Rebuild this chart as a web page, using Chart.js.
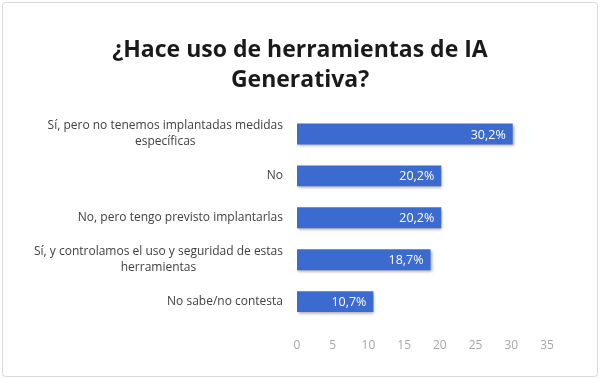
<!DOCTYPE html>
<html>
<head>
<meta charset="utf-8">
<script src="https://cdn.jsdelivr.net/npm/chart.js@4.4.1/dist/chart.umd.min.js"></script>
<style>
  html, body { margin: 0; padding: 0; background: #fff; }
  #wrap { width: 600px; height: 379px; position: relative; }
</style>
</head>
<body>
<div id="wrap"><canvas id="iaChart"></canvas></div>
<script>
// Data
const categories = [
    ['Sí, pero no tenemos implantadas medidas', 'específicas'],
    'No',
    'No, pero tengo previsto implantarlas',
    ['Sí, y controlamos el uso y seguridad de estas', 'herramientas'],
    'No sabe/no contesta'
];
const percentages = [30.2, 20.2, 20.2, 18.7, 10.7];
const valueLabels = ['30,2%', '20,2%', '20,2%', '18,7%', '10,7%'];
const xTicks = [0, 5, 10, 15, 20, 25, 30, 35];
const titleLines = ['¿Hace uso de herramientas de IA', 'Generativa?'];

const barColor = '#3c6bcf';
const labelFont = "'Open Sans', 'DejaVu Sans', sans-serif";

// Light frame round the whole picture
const framePlugin = {
    id: 'frame',
    beforeDraw(chart) {
        const ctx = chart.ctx;
        ctx.save();
        ctx.fillStyle = '#fff';
        ctx.fillRect(0, 0, chart.width, chart.height);
        ctx.strokeStyle = '#d9d9d9';
        ctx.lineWidth = 1;
        ctx.beginPath();
        ctx.roundRect(2.5, 2.5, chart.width - 5, chart.height - 5, 3);
        ctx.stroke();
        ctx.restore();
    }
};

// Title centred on the whole picture, not on the plot box
const centredTitlePlugin = {
    id: 'centredTitle',
    afterDraw(chart) {
        const ctx = chart.ctx;
        ctx.save();
        ctx.font = 'bold 23px ' + labelFont;
        ctx.fillStyle = '#1a1a1a';
        ctx.textAlign = 'center';
        ctx.textBaseline = 'middle';
        titleLines.forEach((line, i) => {
            ctx.fillText(line, chart.width / 2, 50 + i * 30);
        });
        ctx.restore();
    }
};

// Category labels: block is right-aligned to the axis, wrapped lines centred in the block
const categoryLabelPlugin = {
    id: 'categoryLabels',
    afterDraw(chart) {
        const ctx = chart.ctx;
        const yScale = chart.scales.y;
        const right = chart.chartArea.left - 14;
        const lineH = 16;
        ctx.save();
        ctx.font = '12px ' + labelFont;
        ctx.fillStyle = '#404040';
        ctx.textAlign = 'center';
        ctx.textBaseline = 'middle';
        categories.forEach((label, i) => {
            const lines = Array.isArray(label) ? label : [label];
            const blockW = Math.max(...lines.map(l => ctx.measureText(l).width));
            const cx = right - blockW / 2;
            const cy = yScale.getPixelForTick(i);
            const top = cy - (lines.length - 1) * lineH / 2;
            lines.forEach((l, j) => ctx.fillText(l, cx, top + j * lineH));
        });
        ctx.restore();
    }
};

// Soft shadow under the bars
const shadowPlugin = {
    id: 'barShadow',
    beforeDatasetDraw(chart) {
        const ctx = chart.ctx;
        ctx.save();
        ctx.shadowColor = 'rgba(0, 0, 0, 0.35)';
        ctx.shadowBlur = 3;
        ctx.shadowOffsetX = 1;
        ctx.shadowOffsetY = 2;
    },
    afterDatasetDraw(chart) {
        chart.ctx.restore();
    }
};

// White value labels at the inside end of each bar
const valueLabelPlugin = {
    id: 'valueLabels',
    afterDatasetsDraw(chart) {
        const ctx = chart.ctx;
        const meta = chart.getDatasetMeta(0);
        ctx.save();
        ctx.font = '12.5px ' + labelFont;
        ctx.fillStyle = '#ffffff';
        ctx.textAlign = 'right';
        ctx.textBaseline = 'middle';
        meta.data.forEach((bar, i) => {
            ctx.fillText(valueLabels[i], bar.x - 7, bar.y + 1);
        });
        ctx.restore();
    }
};

function barGradient(context) {
    const chart = context.chart;
    const el = context.element;
    if (!chart.chartArea || !el || el.y === undefined) return barColor;
    const h = el.height || 20;
    const g = chart.ctx.createLinearGradient(0, el.y - h / 2, 0, el.y + h / 2);
    g.addColorStop(0, '#5a87dc');
    g.addColorStop(0.5, '#3f6dd0');
    g.addColorStop(1, '#2f5cc0');
    return g;
}

const ctx = document.getElementById('iaChart');
const iaChart = new Chart(ctx, {
    type: 'bar',
    data: {
        labels: categories,
        datasets: [{
            data: percentages,
            backgroundColor: barGradient,
            borderWidth: 0,
            barPercentage: 0.5,
            categoryPercentage: 1
        }]
    },
    plugins: [framePlugin, centredTitlePlugin, categoryLabelPlugin, shadowPlugin, valueLabelPlugin],
    options: {
        indexAxis: 'y',
        responsive: true,
        maintainAspectRatio: false,
        animation: false,
        layout: {
            padding: { top: 113, right: 53, bottom: 18, left: 10 }
        },
        plugins: {
            legend: { display: false },
            tooltip: { enabled: false },
            title: { display: false }
        },
        scales: {
            x: {
                min: 0,
                max: 35,
                afterBuildTicks(scale) {
                    scale.ticks = xTicks.map(v => ({ value: v }));
                },
                grid: { display: false },
                border: { display: false },
                ticks: {
                    color: '#a6a6a6',
                    font: { family: labelFont, size: 12 },
                    padding: 8
                }
            },
            y: {
                grid: { display: false },
                border: { display: false },
                afterFit(scale) {
                    scale.width = 287;
                },
                ticks: { display: false }
            }
        }
    }
});
</script>
</body>
</html>
